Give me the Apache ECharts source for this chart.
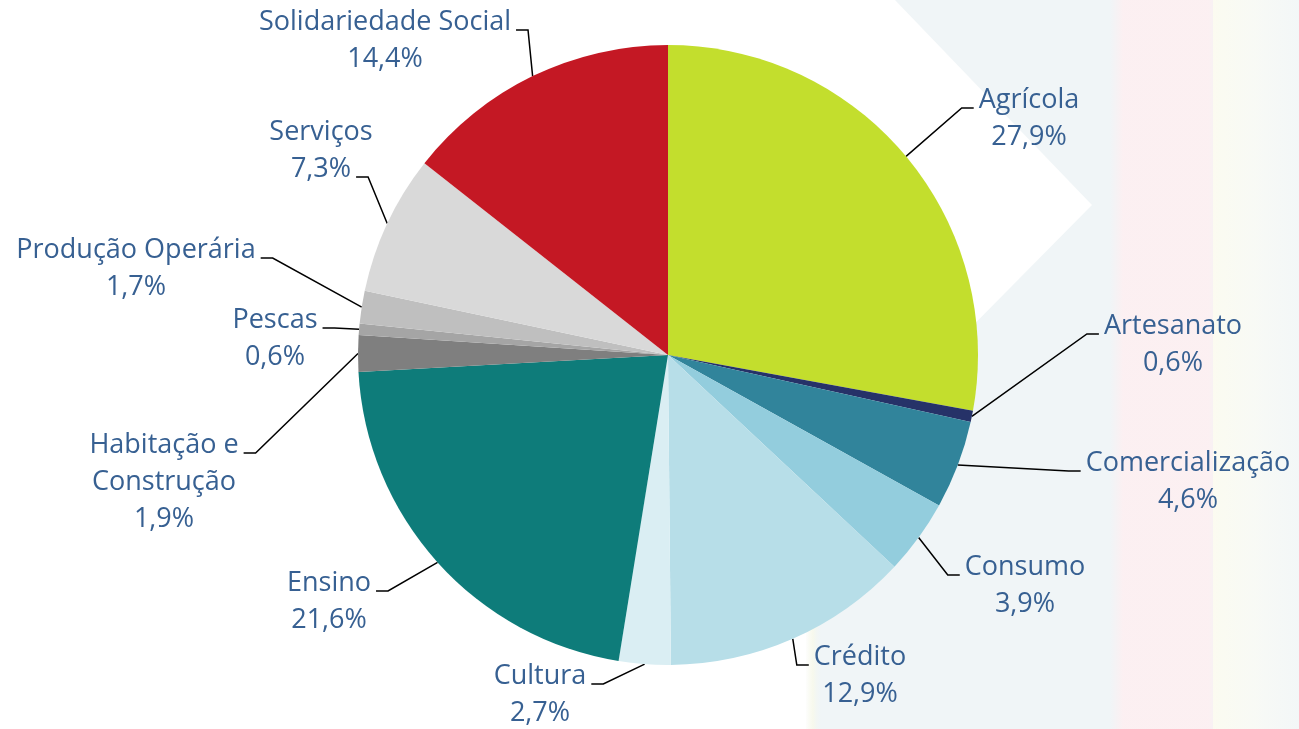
<!DOCTYPE html>
<html><head><meta charset="utf-8">
<script src="https://cdn.jsdelivr.net/npm/echarts@6/dist/echarts.min.js"></script>
<style>html,body{margin:0;padding:0;background:#fff}#c{width:1299px;height:729px}</style>
</head><body><div id="c"></div>
<script>
// ---- data ----
const categories = ['Agrícola','Artesanato','Comercialização','Consumo','Crédito','Cultura','Ensino','Habitação e Construção','Pescas','Produção Operária','Serviços','Solidariedade Social'];
const shares = [27.9, 0.6, 4.6, 3.9, 12.9, 2.7, 21.6, 1.9, 0.6, 1.7, 7.3, 14.4];

// ---- styles ----
const sliceColors = ['#C3DE2D','#263268','#31849B','#93CDDD','#B7DEE8','#DAEEF3','#0E7C7A','#7F7F7F','#A5A5A5','#BFBFBF','#D9D9D9','#C41824'];
// label placement (Excel-like): centre x of text block, centre y of first line, line the leader attaches to
const labelPlacement = [
  {x:1029, y:100}, {x:1173, y:326}, {x:1188, y:463}, {x:1025, y:567},
  {x:860, y:657}, {x:540, y:676}, {x:329, y:583}, {x:164, y:445, wrap:true},
  {x:275, y:320}, {x:136, y:250}, {x:321, y:132, attach:1}, {x:385, y:22}
];
const FONT_FAMILY = "'Open Sans', sans-serif";
const FONT_SIZE = 27;
const LINE_H = 37;
const GAP = 5, ELBOW = 12, ATTACH_DY = 8;

const mctx = document.createElement('canvas').getContext('2d');
mctx.font = FONT_SIZE + 'px ' + FONT_FAMILY;
function pct(v){ return v.toFixed(1).replace('.', ',') + '%'; }
function labelText(i){
  const name = labelPlacement[i].wrap ? categories[i].replace(/ (\S+)$/, '\n$1') : categories[i];
  return name + '\n' + pct(shares[i]);
}
function hGrad(stops){ return {type:'linear', x:0, y:0, x2:1, y2:0, colorStops: stops}; }

const chart = echarts.init(document.getElementById('c'), null, {renderer:'canvas'});
chart.setOption({
  animation: false,
  backgroundColor: '#ffffff',
  graphic: [
    {type:'polygon', z:-10, silent:true, shape:{points:[[895,0],[1299,0],[1299,729],[806,729],[806,600],[850,450],[1092,205]]}, style:{fill:'#F0F5F7'}},
    {type:'rect', z:-9, silent:true, shape:{x:792,y:600,width:30,height:129}, style:{fill:hGrad([{offset:0,color:'rgba(255,255,255,0)'},{offset:0.45,color:'rgba(255,255,255,0.9)'},{offset:0.7,color:'rgba(250,250,232,0.7)'},{offset:1,color:'rgba(240,245,247,0)'}])}},
    {type:'rect', z:-9, silent:true, shape:{x:1110,y:0,width:110,height:729}, style:{fill:hGrad([{offset:0,color:'rgba(253,239,241,0)'},{offset:0.12,color:'rgba(253,239,241,0.9)'},{offset:0.9,color:'rgba(253,239,241,0.9)'},{offset:1,color:'rgba(253,239,241,0)'}])}},
    {type:'rect', z:-9, silent:true, shape:{x:1213,y:0,width:86,height:729}, style:{fill:hGrad([{offset:0,color:'rgba(252,252,240,0.9)'},{offset:0.5,color:'rgba(250,251,245,0.8)'},{offset:1,color:'rgba(245,248,248,0.6)'}])}}
  ],
  series: [{
    type: 'pie',
    center: [668, 355],
    radius: 310,
    startAngle: 90,
    clockwise: true,
    avoidLabelOverlap: false,
    emphasis: {disabled: true},
    data: categories.map((c, i) => ({name: c, value: shares[i], itemStyle: {color: sliceColors[i]}})),
    itemStyle: {borderWidth: 0},
    label: {
      show: true,
      position: 'outside',
      color: '#376092',
      fontFamily: FONT_FAMILY,
      fontSize: FONT_SIZE,
      lineHeight: LINE_H,
      formatter: p => labelText(p.dataIndex)
    },
    labelLine: {show: true, length: 20, length2: 12, lineStyle: {color: '#000', width: 1.5}},
    labelLayout: function (p) {
      const i = p.dataIndex;
      const pl = labelPlacement[i];
      const lines = labelText(i).split('\n');
      const attach = pl.attach || 0;
      const w = mctx.measureText(lines[attach]).width;
      const anchor = p.labelLinePoints[0];
      const right = pl.x > anchor[0];
      const endX = right ? pl.x - w / 2 - GAP : pl.x + w / 2 + GAP;
      const endY = pl.y + attach * LINE_H + ATTACH_DY;
      const bendX = right ? endX - ELBOW : endX + ELBOW;
      return {
        x: pl.x, y: pl.y - LINE_H / 2, align: 'center', verticalAlign: 'top',
        labelLinePoints: [anchor, [bendX, endY], [endX, endY]]
      };
    }
  }]
});
</script></body></html>
